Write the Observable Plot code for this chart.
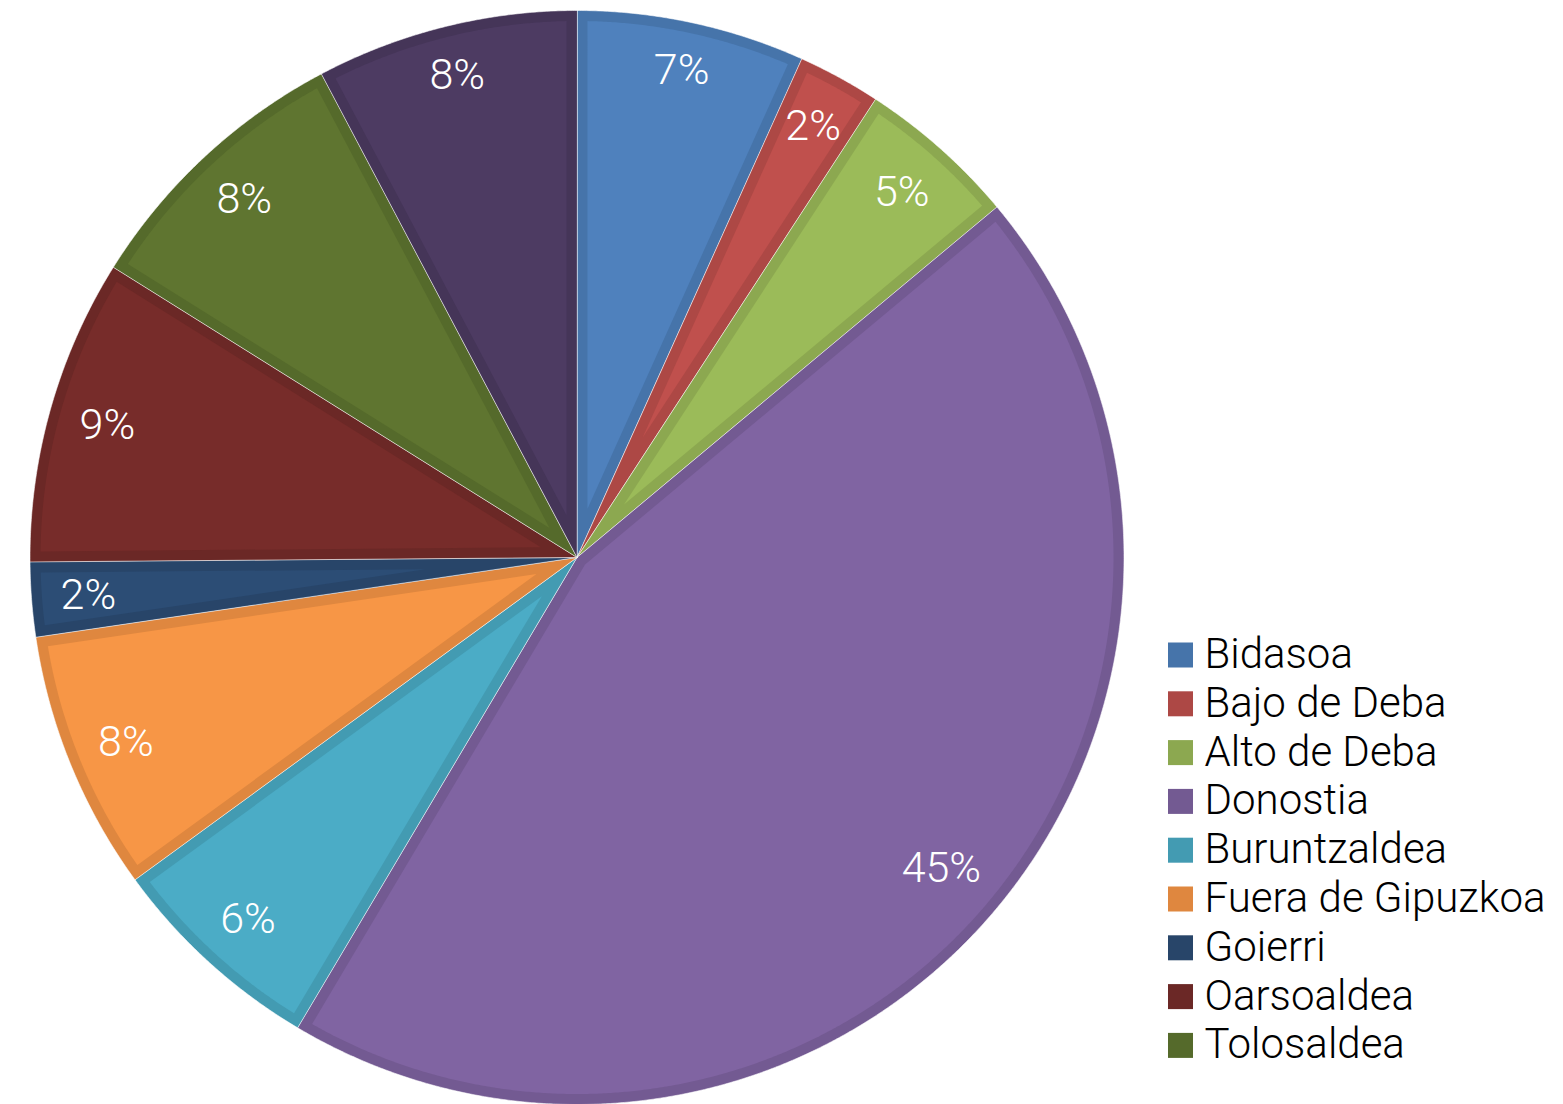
<!DOCTYPE html>
<html>
<head>
<meta charset="utf-8">
<script src="https://cdn.jsdelivr.net/npm/d3@7"></script>
<script src="https://cdn.jsdelivr.net/npm/@observablehq/plot@0.6"></script>
<style>
  html, body { margin: 0; padding: 0; background: #ffffff; }
  #chart svg { display: block; }
</style>
</head>
<body>
<div id="chart"></div>
<script>
// ---- Data ----
const categories = ["Bidasoa", "Bajo de Deba", "Alto de Deba", "Donostia", "Buruntzaldea",
  "Fuera de Gipuzkoa", "Goierri", "Oarsoaldea", "Tolosaldea", "Urola Kosta"];
const values = [6.74, 2.45, 4.74, 44.6, 6.44, 7.7, 2.2, 9.03, 8.36, 7.74];
const fillColors = ["#4F81BD", "#C0504D", "#9BBB59", "#8064A2", "#4BACC6",
  "#F79646", "#2C4D75", "#772C2A", "#5F7530", "#4D3B62"];
const borderColors = ["#4674AA", "#AD4845", "#8CA850", "#735A92", "#439BB2",
  "#DF873F", "#284569", "#6B2826", "#556A2B", "#453558"];
const legendCategories = categories.slice(0, 9); // the tenth entry falls outside the picture

// ---- Layout ----
const W = 1563, H = 1104;
const cx = 576.5, cy = 557, R = 547, inset = 10.5, labelMargin = 28;
const labelFont = 43, legendFont = 42;
const FONT = "Roboto, 'Noto Sans', 'DejaVu Sans', sans-serif";
const WEIGHT = 300;

const rows = categories.map((c, i) => ({key: c, value: values[i], fill: fillColors[i], border: borderColors[i]}));
const total = d3.sum(values);
const arcs = d3.pie().sort(null).value(d => d.value)(rows);

const px = (a, r) => cx + r * Math.sin(a);
const py = (a, r) => cy - r * Math.cos(a);

const outerPts = [];
const innerPts = [];
const labels = [];

const ctx = document.createElement("canvas").getContext("2d");
ctx.font = `${WEIGHT} ${labelFont}px ${FONT}`;

for (const a of arcs) {
  const {startAngle: a0, endAngle: a1} = a;
  const d = a.data;
  const step = Math.PI / 720;
  // outer wedge (border colour)
  outerPts.push({key: d.key, x: cx, y: cy, c: d.border});
  const n = Math.max(2, Math.ceil((a1 - a0) / step));
  for (let k = 0; k <= n; ++k) {
    const t = a0 + (a1 - a0) * k / n;
    outerPts.push({key: d.key, x: px(t, R), y: py(t, R), c: d.border});
  }
  // inner wedge (fill colour) inset by the border width
  const theta = a1 - a0;
  const mid = (a0 + a1) / 2;
  const apex = inset / Math.sin(theta / 2);
  innerPts.push({key: d.key, x: px(mid, apex), y: py(mid, apex), c: d.fill});
  const ri = R - inset;
  const delta = Math.asin(inset / ri);
  const b0 = a0 + delta, b1 = a1 - delta;
  const m = Math.max(2, Math.ceil((b1 - b0) / step));
  for (let k = 0; k <= m; ++k) {
    const t = b0 + (b1 - b0) * k / m;
    innerPts.push({key: d.key, x: px(t, ri), y: py(t, ri), c: d.fill});
  }
  // label, placed "inside end"
  const text = Math.round(d.value / total * 100) + "%";
  const w = ctx.measureText(text).width;
  const h = labelFont * 0.72;
  const ext = Math.abs(w / 2 * Math.sin(mid)) + Math.abs(h / 2 * Math.cos(mid));
  const rl = R - labelMargin - ext;
  labels.push({x: px(mid, rl), y: py(mid, rl), text});
}

// legend rows
const legX = 1168, legSize = 25, legY0 = 655, legStep = 48.8, legTextX = 1204;
const legend = legendCategories.map((c, i) => ({
  key: c,
  color: borderColors[i],
  x1: legX, x2: legX + legSize,
  y1: legY0 + i * legStep - legSize / 2, y2: legY0 + i * legStep + legSize / 2,
  ty: legY0 + i * legStep - 1
}));

const chart = Plot.plot({
  width: W,
  height: H,
  margin: 0,
  x: {domain: [0, W], range: [0, W], axis: null},
  y: {domain: [0, H], range: [0, H], axis: null},
  color: {type: "identity"},
  style: {fontFamily: FONT, background: "#ffffff"},
  marks: [
    Plot.line(outerPts, {x: "x", y: "y", z: "key", fill: "c", stroke: "#ffffff", strokeWidth: 1, strokeOpacity: 0.55, curve: "linear-closed"}),
    Plot.line(innerPts, {x: "x", y: "y", z: "key", fill: "c", stroke: "none", curve: "linear-closed"}),
    Plot.text(labels, {x: "x", y: "y", text: "text", fill: "#ffffff", fontSize: labelFont, fontWeight: WEIGHT, textAnchor: "middle", lineAnchor: "middle"}),
    Plot.rect(legend, {x1: "x1", x2: "x2", y1: "y1", y2: "y2", fill: "color"}),
    Plot.text(legend, {x: () => legTextX, y: "ty", text: "key", fill: "#000000", fontSize: legendFont, fontWeight: WEIGHT, textAnchor: "start", lineAnchor: "middle"})
  ]
});

document.getElementById("chart").appendChild(chart);
</script>
</body>
</html>
